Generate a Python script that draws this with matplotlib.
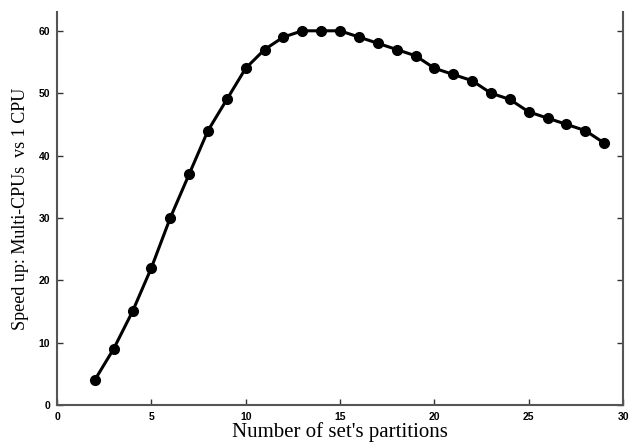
import matplotlib
matplotlib.use("Agg")
import matplotlib.pyplot as plt

# speed-up measured per number of partitions
partitions = list(range(2, 30))
speedup = [4, 9, 15, 22, 30, 37, 44, 49, 54, 57, 59, 60, 60, 60,
           59, 58, 57, 56, 54, 53, 52, 50, 49, 47, 46, 45, 44, 42]

fig = plt.figure(figsize=(6.41, 4.48), dpi=100)
ax = fig.add_axes([0.089, 0.096, 0.883, 0.877])

ax.plot(partitions, speedup, color="black", linewidth=2.2,
        marker="o", markersize=7)

ax.set_xlim(0, 30)
ax.set_ylim(0, 63)
ax.set_xticks(range(0, 31, 5))
ax.set_yticks(range(0, 61, 10))

for side in ["left", "right", "bottom"]:
    ax.spines[side].set_color("#555555")
    ax.spines[side].set_linewidth(1.5)
ax.spines["top"].set_visible(False)

ax.tick_params(direction="in", length=4, width=1, color="#333333",
               right=True, top=False, labelsize=7.5, pad=5)
for lab in ax.get_xticklabels() + ax.get_yticklabels():
    lab.set_fontweight("bold")
    lab.set_family("Liberation Sans")

ax.set_xlabel("Number of set's partitions", family="Liberation Serif",
              fontsize=15, labelpad=0)
ax.set_ylabel("Speed up: Multi-CPUs  vs 1 CPU", family="Liberation Serif",
              fontsize=13, labelpad=7)

fig.savefig("out.png", dpi=100)
plt.close(fig)
